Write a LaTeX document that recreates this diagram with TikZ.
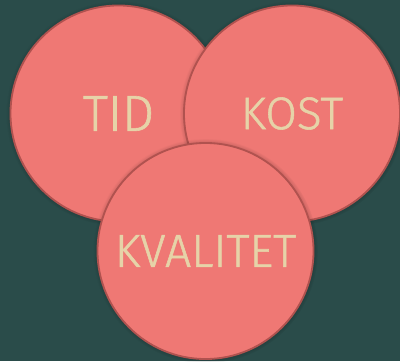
\documentclass[tikz,border=0pt]{standalone}
\usepackage{fontspec}
\setmainfont{Fira Sans}[UprightFont=* Light,UprightFeatures={FakeBold=1.2}]
\usetikzlibrary{shadows}
\definecolor{bakgrunn}{HTML}{2A4C4A}
\definecolor{sirkel}{HTML}{EF7874}
\definecolor{kant}{HTML}{B0524F}
\definecolor{tekst}{HTML}{E6D3A8}
\tikzset{
  ring/.style={circle,draw=kant,fill=sirkel,line width=1.3pt,minimum size=5.4cm,inner sep=0pt,
    text=tekst,circular drop shadow={shadow xshift=0pt,shadow yshift=0pt,shadow scale=1.04,fill=black,opacity=.55}}
}
\begin{document}
\begin{tikzpicture}[x=0.025cm,y=-0.025cm]
            \fill[bakgrunn](0,0)rectangle(400,361);
            \useasboundingbox(0,0)rectangle(400,361);
            \node[ring,font=\fontsize{36}{40}\selectfont](tid)at(118.5,113.5){TID};
            \node[ring,font=\fontsize{32.5}{36}\selectfont](kost)at(292,113.5){KOST};
            \node[ring,font=\fontsize{33}{36}\selectfont](kvalitet)at(205.5,251){KVALITET};
        \end{tikzpicture}
\end{document}
